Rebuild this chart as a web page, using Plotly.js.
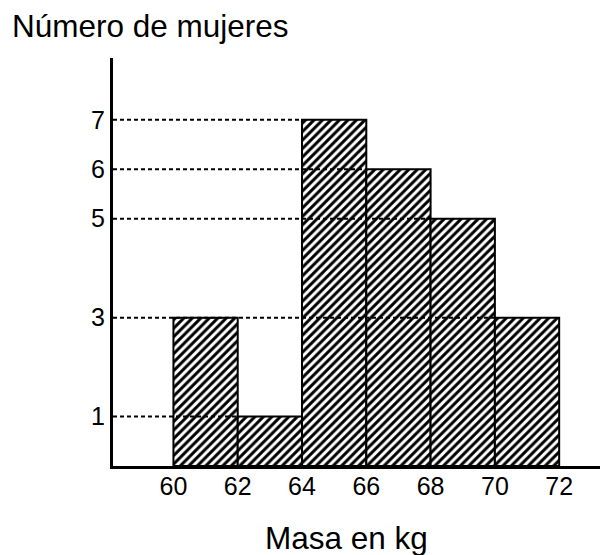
<!DOCTYPE html>
<html>
<head>
<meta charset="utf-8">
<script src="https://cdn.plot.ly/plotly-3.0.1.min.js"></script>
<style>html,body{margin:0;padding:0;background:#fff;}#chart{width:606px;height:555px;}</style>
</head>
<body>
<div id="chart"></div>
<script>
// Data
const binStarts = [60, 62, 64, 66, 68, 70];
const binWidth = 2;
const counts = [3, 1, 7, 6, 5, 3];
const xTickVals = [60, 62, 64, 66, 68, 70, 72];
const yTickVals = [1, 3, 5, 6, 7];
const yTitle = "Número de mujeres";
const xTitle = "Masa en kg";

const xRange = [58.12, 73.27];
const yRange = [0, 8.25];
const FONT = "Liberation Sans, Arial, sans-serif";

const traces = [{
  type: 'bar',
  x: binStarts.map(s => s + binWidth / 2),
  y: counts,
  width: binStarts.map(() => binWidth),
  marker: {
    color: 'white',
    line: {color: 'black', width: 2},
    pattern: {shape: '/', size: 6, solidity: 0.5, fgcolor: 'black', bgcolor: 'white', fillmode: 'replace'}
  },
  hoverinfo: 'skip',
  showlegend: false
}];

// dashed guide lines: from y axis to left edge of last bar with that count
yTickVals.forEach(v => {
  let idx = -1;
  counts.forEach((c, i) => { if (c === v) idx = i; });
  if (idx < 0) return;
  traces.push({
    type: 'scatter', mode: 'lines',
    x: [xRange[0], binStarts[idx]], y: [v, v],
    line: {color: 'black', width: 2, dash: '4px,3px'},
    hoverinfo: 'skip', showlegend: false, cliponaxis: false
  });
});

const layout = {
  width: 606, height: 555,
  margin: {l: 113, r: 6, t: 58, b: 89},
  paper_bgcolor: 'white', plot_bgcolor: 'white',
  font: {family: FONT, color: 'black', size: 25},
  bargap: 0,
  xaxis: {
    range: xRange, tickvals: xTickVals, ticktext: xTickVals.map(String),
    showgrid: false, zeroline: false, showline: true, linecolor: 'black', linewidth: 3,
    ticks: '', ticklabelstandoff: -4,
    tickfont: {size: 25, family: FONT, color: 'black'}, fixedrange: true
  },
  yaxis: {
    range: yRange, tickvals: yTickVals, ticktext: yTickVals.map(String),
    showgrid: false, zeroline: false, showline: true, linecolor: 'black', linewidth: 3,
    ticks: '',
    tickfont: {size: 25, family: FONT, color: 'black'}, fixedrange: true
  },
  annotations: [
    {text: yTitle, xref: 'paper', yref: 'paper', x: (10 - 113) / 487, y: (466 - 26) / 408,
     xanchor: 'left', yanchor: 'middle', showarrow: false, font: {size: 31.5, family: FONT, color: 'black'}},
    {text: xTitle, xref: 'paper', yref: 'paper', x: (346.5 - 113) / 487, y: (466 - 538) / 408,
     xanchor: 'center', yanchor: 'middle', showarrow: false, font: {size: 31.5, family: FONT, color: 'black'}}
  ]
};

Plotly.newPlot('chart', traces, layout, {displayModeBar: false, staticPlot: true});
</script>
</body>
</html>
